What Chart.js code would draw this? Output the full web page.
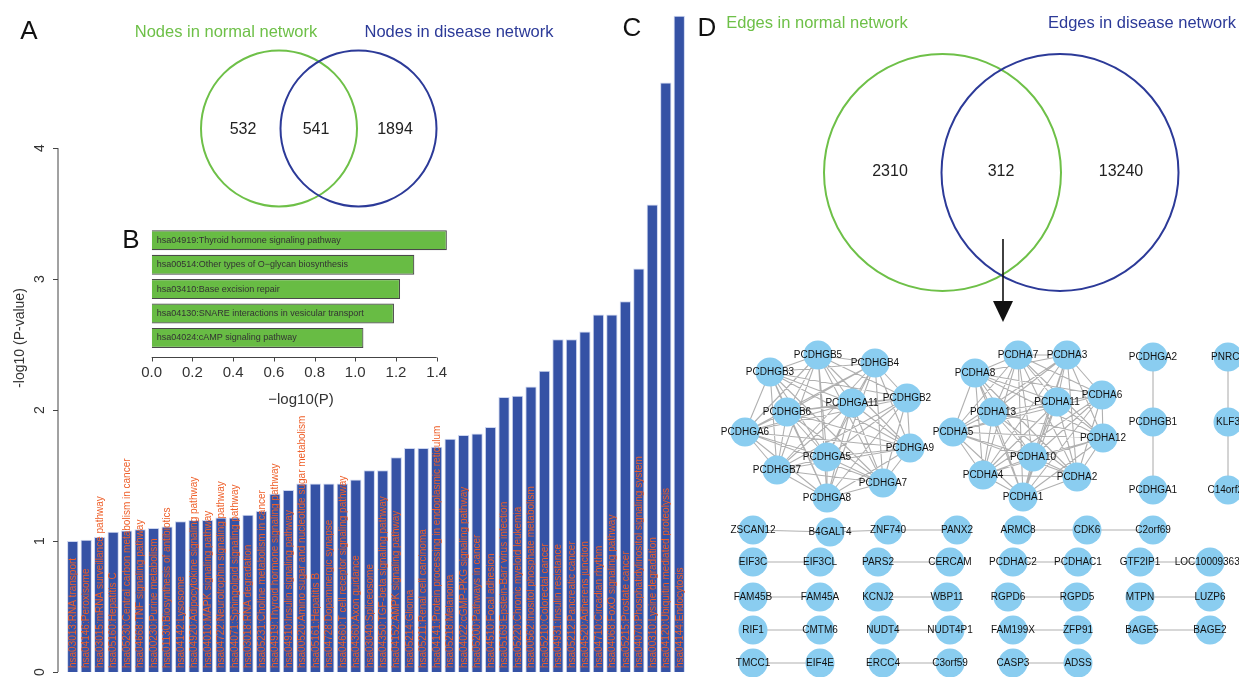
<!DOCTYPE html>
<html>
<head>
<meta charset="utf-8">
<script src="https://cdn.jsdelivr.net/npm/chart.js@4.4.1/dist/chart.umd.min.js"></script>
<style>
html, body { margin: 0; padding: 0; background: #fff; }
#wrap { position: relative; width: 1239px; height: 677px; overflow: hidden; }
canvas { position: absolute; }
</style>
</head>
<body>
<div id="wrap">
    <canvas id="pathwaygraph" width="700" height="677" style="left:0;top:0"></canvas>
    <canvas id="topgraph" width="360" height="220" style="left:100px;top:200px"></canvas>
    <canvas id="networkgraph" width="1239" height="677" style="left:0;top:0"></canvas>
</div>
<script>
// panel C: KEGG pathways of the disease network
const pathwayLabels = [
    "hsa03013:RNA transport",
    "hsa04146:Peroxisome",
    "hsa03015:mRNA surveillance pathway",
    "hsa05160:Hepatitis C",
    "hsa05230:Central carbon metabolism in cancer",
    "hsa04668:TNF signaling pathway",
    "hsa00230:Purine metabolism",
    "hsa01130:Biosynthesis of antibiotics",
    "hsa04142:Lysosome",
    "hsa04920:Adipocytokine signaling pathway",
    "hsa04010:MAPK signaling pathway",
    "hsa04722:Neurotrophin signaling pathway",
    "hsa04071:Sphingolipid signaling pathway",
    "hsa03018:RNA degradation",
    "hsa05231:Choline metabolism in cancer",
    "hsa04919:Thyroid hormone signaling pathway",
    "hsa04910:Insulin signaling pathway",
    "hsa00520:Amino sugar and nucleotide sugar metabolism",
    "hsa05161:Hepatitis B",
    "hsa04728:Dopaminergic synapse",
    "hsa04660:T cell receptor signaling pathway",
    "hsa04360:Axon guidance",
    "hsa03040:Spliceosome",
    "hsa04350:TGF-beta signaling pathway",
    "hsa04152:AMPK signaling pathway",
    "hsa05214:Glioma",
    "hsa05211:Renal cell carcinoma",
    "hsa04141:Protein processing in endoplasmic reticulum",
    "hsa05218:Melanoma",
    "hsa04022:cGMP-PKG signaling pathway",
    "hsa05200:Pathways in cancer",
    "hsa04510:Focal adhesion",
    "hsa05169:Epstein-Barr virus infection",
    "hsa05220:Chronic myeloid leukemia",
    "hsa00562:Inositol phosphate metabolism",
    "hsa05210:Colorectal cancer",
    "hsa04931:Insulin resistance",
    "hsa05212:Pancreatic cancer",
    "hsa04520:Adherens junction",
    "hsa04710:Circadian rhythm",
    "hsa04068:FoxO signaling pathway",
    "hsa05215:Prostate cancer",
    "hsa04070:Phosphatidylinositol signaling system",
    "hsa00310:Lysine degradation",
    "hsa04120:Ubiquitin mediated proteolysis",
    "hsa04144:Endocytosis",
];
const pathwayValues = [
    1.00, 1.01, 1.03, 1.07, 1.08, 1.09, 1.10, 1.11, 1.15, 1.16,
    1.16, 1.18, 1.18, 1.20, 1.23, 1.36, 1.39, 1.44, 1.44, 1.44,
    1.44, 1.47, 1.54, 1.54, 1.64, 1.71, 1.71, 1.72, 1.78, 1.81,
    1.82, 1.87, 2.10, 2.11, 2.18, 2.30, 2.54, 2.54, 2.60, 2.73,
    2.73, 2.83, 3.08, 3.57, 4.50, 5.01,
];
const pathwayTicks = [0, 1, 2, 3, 4];

// panel B: pathways of the shared network
const topLabels = [
    "hsa04919:Thyroid hormone signaling pathway",
    "hsa00514:Other types of O\u2212glycan biosynthesis",
    "hsa03410:Base excision repair",
    "hsa04130:SNARE interactions in vesicular transport",
    "hsa04024:cAMP signaling pathway",
];
const topValues = [1.45, 1.29, 1.22, 1.19, 1.04];
const topTicks = [0, 0.2, 0.4, 0.6, 0.8, 1.0, 1.2, 1.4];

// panels A and D: venn counts (left only, shared, right only)
const nodeCounts = [532, 541, 1894];
const edgeCounts = [2310, 312, 13240];

// panel D: shared sub-network, nodes laid out as in the figure
const netNames = [
    "PCDHGB5", "PCDHGB4", "PCDHGB3", "PCDHGB2", "PCDHGA11", "PCDHGB6",
    "PCDHGA6", "PCDHGA9", "PCDHGA5", "PCDHGB7", "PCDHGA7", "PCDHGA8",
    "PCDHA7", "PCDHA3", "PCDHA8", "PCDHA6", "PCDHA11", "PCDHA13",
    "PCDHA5", "PCDHA12", "PCDHA10", "PCDHA4", "PCDHA2", "PCDHA1",
    "PCDHGA2", "PCDHGB1", "PCDHGA1", "PNRC2", "KLF3", "C14orf28",
    "ZSCAN12", "B4GALT4", "ZNF740", "PANX2", "ARMC8", "CDK6", "C2orf69",
    "EIF3C", "EIF3CL", "PARS2", "CERCAM", "PCDHAC2", "PCDHAC1", "GTF2IP1", "LOC100093631",
    "FAM45B", "FAM45A", "KCNJ2", "WBP11", "RGPD6", "RGPD5", "MTPN", "LUZP6",
    "RIF1", "CMTM6", "NUDT4", "NUDT4P1", "FAM199X", "ZFP91", "BAGE5", "BAGE2",
    "TMCC1", "EIF4E", "ERCC4", "C3orf59", "CASP3", "ADSS",
];
const netX = [
    818, 875, 770, 907, 852, 787, 745, 910, 827, 777, 883, 827,
    1018, 1067, 975, 1102, 1057, 993, 953, 1103, 1033, 983, 1077, 1023,
    1153, 1153, 1153, 1228, 1228, 1228,
    753, 830, 888, 957, 1018, 1087, 1153,
    753, 820, 878, 950, 1013, 1078, 1140, 1210,
    753, 820, 878, 947, 1008, 1077, 1140, 1210,
    753, 820, 883, 950, 1013, 1078, 1142, 1210,
    753, 820, 883, 950, 1013, 1078,
];
const netY = [
    355, 363, 372, 398, 403, 412, 432, 448, 457, 470, 483, 498,
    355, 355, 373, 395, 402, 412, 432, 438, 457, 475, 477, 497,
    357, 422, 490, 357, 422, 490,
    530, 532, 530, 530, 530, 530, 530,
    562, 562, 562, 562, 562, 562, 562, 562,
    597, 597, 597, 597, 597, 597, 597, 597,
    630, 630, 630, 630, 630, 630, 630, 630,
    663, 663, 663, 663, 663, 663,
];
const denseClusters = [
    [0, 1, 2, 3, 4, 5, 6, 7, 8, 9, 10, 11],
    [12, 13, 14, 15, 16, 17, 18, 19, 20, 21, 22, 23],
];
const netEdges = [
    [24, 25], [25, 26], [27, 28], [28, 29],
    [30, 31], [31, 32], [32, 33], [34, 35], [35, 36],
    [37, 38], [39, 40], [41, 42], [43, 44],
    [45, 46], [47, 48], [49, 50], [51, 52],
    [53, 54], [55, 56], [57, 58], [59, 60],
    [61, 62], [63, 64], [65, 66],
];

const barBlue = "rgb(53,82,165)";
const labelOrange = "rgb(238,94,40)";
const vennGreen = "rgb(110,192,72)";
const vennBlue = "rgb(44,58,152)";
const font = "Arial, 'Liberation Sans', sans-serif";

const pathwayAxis = {
    id: "pathwayAxis",
    afterDatasetsDraw(chart) {
        const ctx = chart.ctx;
        const y = chart.scales.y;
        const meta = chart.getDatasetMeta(0);
        ctx.save();

        // bar names, written upward from the base
        ctx.fillStyle = labelOrange;
        ctx.font = "10px " + font;
        ctx.textAlign = "left";
        ctx.textBaseline = "middle";
        meta.data.forEach((bar, i) => {
            ctx.save();
            ctx.translate(bar.x + 0.5, y.getPixelForValue(0) - 4);
            ctx.rotate(-Math.PI / 2);
            ctx.fillText(pathwayLabels[i], 0, 0);
            ctx.restore();
        });

        // R style axis, offset from the bars
        const ax = 58;
        ctx.strokeStyle = "#444";
        ctx.lineWidth = 1;
        ctx.beginPath();
        ctx.moveTo(ax, y.getPixelForValue(pathwayTicks[0]));
        ctx.lineTo(ax, y.getPixelForValue(pathwayTicks[pathwayTicks.length - 1]));
        pathwayTicks.forEach((t) => {
            const py = Math.round(y.getPixelForValue(t)) + 0.5;
            ctx.moveTo(ax, py);
            ctx.lineTo(ax - 5, py);
        });
        ctx.stroke();

        ctx.fillStyle = "#333";
        ctx.font = "14px " + font;
        ctx.textAlign = "center";
        ctx.textBaseline = "middle";
        pathwayTicks.forEach((t) => {
            ctx.save();
            ctx.translate(40, y.getPixelForValue(t));
            ctx.rotate(-Math.PI / 2);
            ctx.fillText(String(t), 0, 0);
            ctx.restore();
        });
        ctx.save();
        ctx.translate(20, y.getPixelForValue(2.55));
        ctx.rotate(-Math.PI / 2);
        ctx.fillText("-log10 (P-value)", 0, 0);
        ctx.restore();

        ctx.fillStyle = "#111";
        ctx.font = "26px " + font;
        ctx.fillText("C", 632, 29);
        ctx.restore();
    },
};

const topAxis = {
    id: "topAxis",
    afterDatasetsDraw(chart) {
        const ctx = chart.ctx;
        const x = chart.scales.x;
        const meta = chart.getDatasetMeta(0);
        ctx.save();

        ctx.fillStyle = "#333";
        ctx.font = "9px " + font;
        ctx.textAlign = "left";
        ctx.textBaseline = "middle";
        meta.data.forEach((bar, i) => {
            ctx.fillText(topLabels[i], x.getPixelForValue(0) + 5, bar.y);
        });

        const ay = 157.5;
        ctx.strokeStyle = "#444";
        ctx.lineWidth = 1;
        ctx.beginPath();
        ctx.moveTo(x.getPixelForValue(topTicks[0]), ay);
        ctx.lineTo(x.getPixelForValue(topTicks[topTicks.length - 1]), ay);
        topTicks.forEach((t) => {
            const px = Math.round(x.getPixelForValue(t)) + 0.5;
            ctx.moveTo(px, ay);
            ctx.lineTo(px, ay + 4);
        });
        ctx.stroke();

        ctx.fillStyle = "#333";
        ctx.font = "15px " + font;
        ctx.textAlign = "center";
        ctx.textBaseline = "middle";
        topTicks.forEach((t) => {
            ctx.fillText(t.toFixed(1), x.getPixelForValue(t), 173);
        });
        ctx.fillText("\u2212log10(P)", 201, 200);

        ctx.fillStyle = "#111";
        ctx.font = "26px " + font;
        ctx.fillText("B", 31, 41);
        ctx.restore();
    },
};

const networkDecor = {
    id: "networkDecor",
    beforeDatasetsDraw(chart) {
        const ctx = chart.ctx;
        const sx = chart.scales.x;
        const sy = chart.scales.y;
        const line = (a, b) => {
            ctx.moveTo(sx.getPixelForValue(netX[a]), sy.getPixelForValue(netY[a]));
            ctx.lineTo(sx.getPixelForValue(netX[b]), sy.getPixelForValue(netY[b]));
        };
        ctx.save();
        ctx.strokeStyle = "rgba(150,150,150,0.75)";
        ctx.lineWidth = 1.1;
        ctx.beginPath();
        denseClusters.forEach((members) => {
            for (let i = 0; i < members.length; i++) {
                for (let j = i + 1; j < members.length; j++) {
                    line(members[i], members[j]);
                }
            }
        });
        netEdges.forEach(([a, b]) => line(a, b));
        ctx.stroke();
        ctx.restore();
    },
    afterDatasetsDraw(chart) {
        const ctx = chart.ctx;
        const sx = chart.scales.x;
        const sy = chart.scales.y;
        ctx.save();
        ctx.textAlign = "center";
        ctx.textBaseline = "middle";

        ctx.fillStyle = "#111";
        ctx.font = "10px " + font;
        netNames.forEach((name, i) => {
            ctx.fillText(name, sx.getPixelForValue(netX[i]), sy.getPixelForValue(netY[i]));
        });

        // venn counts
        ctx.font = "16px " + font;
        ctx.fillStyle = "#222";
        [243, 316, 395].forEach((px, i) => ctx.fillText(String(nodeCounts[i]), px, 130));
        [890, 1001, 1121].forEach((px, i) => ctx.fillText(String(edgeCounts[i]), px, 172));

        ctx.font = "16.5px " + font;
        ctx.fillStyle = vennGreen;
        ctx.fillText("Nodes in normal network", 226, 32);
        ctx.fillText("Edges in normal network", 817, 23);
        ctx.fillStyle = vennBlue;
        ctx.fillText("Nodes in disease network", 459, 32);
        ctx.fillText("Edges in disease network", 1142, 23);

        ctx.fillStyle = "#111";
        ctx.font = "26px " + font;
        ctx.fillText("A", 29, 32);
        ctx.fillText("D", 707, 29);

        // arrow from the shared edges to the sub-network
        ctx.strokeStyle = "#111";
        ctx.lineWidth = 1.6;
        ctx.beginPath();
        ctx.moveTo(1003, 239);
        ctx.lineTo(1003, 305);
        ctx.stroke();
        ctx.beginPath();
        ctx.moveTo(993, 301);
        ctx.lineTo(1013, 301);
        ctx.lineTo(1003, 322);
        ctx.closePath();
        ctx.fill();
        ctx.restore();
    },
};

new Chart(document.getElementById("pathwaygraph"), {
    type: "bar",
    data: {
        labels: pathwayLabels,
        datasets: [
            {
                data: pathwayValues,
                backgroundColor: barBlue,
                borderColor: "rgb(205,214,240)",
                borderWidth: 1,
                barPercentage: 0.84,
                categoryPercentage: 1,
            },
        ],
    },
    options: {
        responsive: false,
        animation: false,
        layout: { padding: { left: 66, right: 14, top: 4, bottom: 5 } },
        plugins: { legend: { display: false }, tooltip: { enabled: false } },
        scales: {
            x: { display: false },
            y: { display: false, min: 0, max: 5.1 },
        },
    },
    plugins: [pathwayAxis],
});

new Chart(document.getElementById("topgraph"), {
    type: "bar",
    data: {
        labels: topLabels,
        datasets: [
            {
                data: topValues,
                backgroundColor: "rgb(104,188,68)",
                borderColor: "#4a4a4a",
                borderWidth: 1.2,
                barPercentage: 0.82,
                categoryPercentage: 1,
            },
        ],
    },
    options: {
        indexAxis: "y",
        responsive: false,
        animation: false,
        layout: { padding: { left: 51.7, right: 13.1, top: 28.1, bottom: 69.9 } },
        plugins: { legend: { display: false }, tooltip: { enabled: false } },
        scales: {
            x: { display: false, min: 0, max: 1.45 },
            y: { display: false },
        },
    },
    plugins: [topAxis],
});

new Chart(document.getElementById("networkgraph"), {
    type: "scatter",
    data: {
        datasets: [
            {
                // venn circles
                data: [
                    { x: 279, y: 128.5 },
                    { x: 358.5, y: 128.5 },
                    { x: 942.5, y: 172.5 },
                    { x: 1060, y: 172.5 },
                ],
                pointRadius: [78, 78, 118.5, 118.5],
                pointBorderColor: [vennGreen, vennBlue, vennGreen, vennBlue],
                pointBackgroundColor: "rgba(0,0,0,0)",
                pointBorderWidth: 2,
            },
            {
                data: netNames.map((n, i) => ({ x: netX[i], y: netY[i] })),
                pointRadius: 14.5,
                pointBackgroundColor: "rgb(138,205,240)",
                pointBorderWidth: 0,
            },
        ],
    },
    options: {
        responsive: false,
        animation: false,
        clip: false,
        layout: { autoPadding: false, padding: 0 },
        plugins: { legend: { display: false }, tooltip: { enabled: false } },
        scales: {
            x: { display: false, min: 0, max: 1239 },
            y: { display: false, min: 0, max: 677, reverse: true },
        },
    },
    plugins: [networkDecor],
});
</script>
</body>
</html>
